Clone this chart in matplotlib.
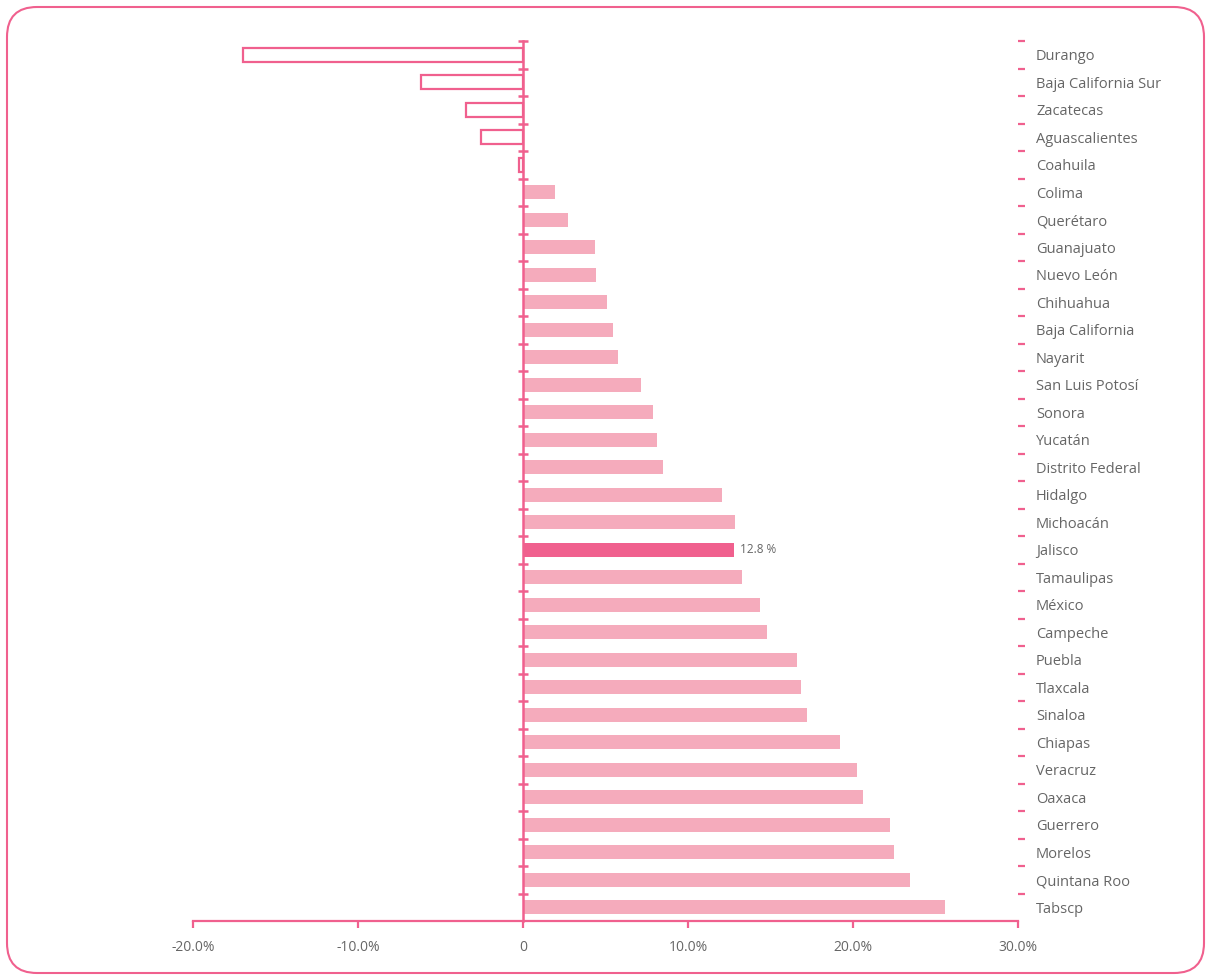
import matplotlib
matplotlib.use("Agg")
import matplotlib.pyplot as plt
import matplotlib.patches as mpatches
from matplotlib.transforms import IdentityTransform
from matplotlib.ticker import FixedLocator, NullFormatter, FixedFormatter

states = ["Durango", "Baja California Sur", "Zacatecas", "Aguascalientes", "Coahuila",
          "Colima", "Querétaro", "Guanajuato", "Nuevo León", "Chihuahua",
          "Baja California", "Nayarit", "San Luis Potosí", "Sonora", "Yucatán",
          "Distrito Federal", "Hidalgo", "Michoacán", "Jalisco", "Tamaulipas",
          "México", "Campeche", "Puebla", "Tlaxcala", "Sinaloa", "Chiapas",
          "Veracruz", "Oaxaca", "Guerrero", "Morelos", "Quintana Roo", "Tabscp"]
growth = [-17.0, -6.2, -3.45, -2.55, -0.25,
          1.95, 2.7, 4.35, 4.4, 5.1,
          5.45, 5.75, 7.15, 7.9, 8.1,
          8.5, 12.05, 12.85, 12.8, 13.25,
          14.35, 14.8, 16.6, 16.85, 17.2, 19.2,
          20.25, 20.6, 22.25, 22.5, 23.45, 25.6]
highlight = "Jalisco"
xticks = [-20, -10, 0, 10, 20, 30]
xticklabels = ["-20.0%", "-10.0%", "0", "10.0%", "20.0%", "30.0%"]

pink = "#F0608E"
light = "#F5ABBC"
gray = "#666666"

plt.rcParams['font.family'] = ['Open Sans', 'DejaVu Sans']

fig = plt.figure(figsize=(12.11, 9.76), dpi=100)
ax = fig.add_axes([193/1211, 1 - 921/976, 825/1211, 880/976])

n = len(states)
ypos = list(range(n))
for y, name, v in zip(ypos, states, growth):
    if v < 0:
        ax.barh(y, v, height=0.5, color="white", edgecolor=pink, linewidth=1.6)
    elif name == highlight:
        ax.barh(y, v, height=0.5, color=pink, linewidth=0)
        ax.text(v + 0.35, y, f"{v:.1f} %", va="center", ha="left", fontsize=8.5, color=gray)
    else:
        ax.barh(y, v, height=0.5, color=light, linewidth=0)

ax.set_xlim(-20, 30)
ax.set_ylim(n - 0.5, -0.5)

# zero line with small crossing ticks between categories
bounds = [i - 0.5 for i in range(n + 1)]
ax.axvline(0, color=pink, linewidth=1.8, zorder=3, clip_on=False)
ax.plot([0] * n, bounds[:-1], linestyle="none", marker="_", markersize=6.5,
        markeredgewidth=1.8, color=pink, zorder=3, clip_on=False)

for s in ["left", "top", "right"]:
    ax.spines[s].set_visible(False)
ax.spines["bottom"].set_color(pink)
ax.spines["bottom"].set_linewidth(1.6)

ax.set_xticks(xticks)
ax.set_xticklabels(xticklabels)
ax.tick_params(axis="x", colors=pink, length=5, width=1.6, labelcolor=gray,
               labelsize=10, pad=9)

ax.yaxis.tick_right()
ax.yaxis.set_major_locator(FixedLocator(bounds[:-1]))
ax.yaxis.set_major_formatter(NullFormatter())
ax.yaxis.set_minor_locator(FixedLocator(ypos))
ax.yaxis.set_minor_formatter(FixedFormatter(states))
ax.tick_params(axis="y", which="major", colors=pink, length=5, width=1.6, direction="out")
ax.tick_params(axis="y", which="minor", length=0, pad=13, labelcolor=gray, labelsize=10.5)

border = mpatches.FancyBboxPatch((7, 3), 1197, 966,
                                 boxstyle="round,pad=0,rounding_size=30",
                                 transform=IdentityTransform(), fill=False,
                                 edgecolor=pink, linewidth=1.5)
fig.patches.append(border)

fig.savefig("out.png", dpi=100)
